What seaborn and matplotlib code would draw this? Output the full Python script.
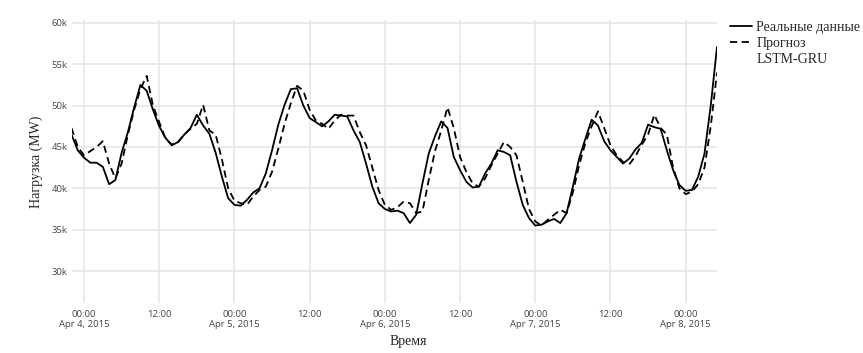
import numpy as np
import pandas as pd
import matplotlib
matplotlib.use("Agg")
import matplotlib.pyplot as plt
from matplotlib.lines import Line2D
import seaborn as sns

# hourly load, MW (thousands), starting 2015-04-03 22:00
real = [46.5, 44.6, 43.7, 43.1, 43.1, 42.6, 40.5, 41.0, 44.3, 46.8,
        49.8, 52.5, 51.8, 49.5, 47.5, 46.1, 45.2, 45.6, 46.5, 47.3,
        48.9, 47.6, 46.6, 44.3, 41.4, 38.8, 38.0, 37.9, 38.6, 39.5,
        40.0, 41.8, 44.6, 47.7, 50.1, 52.0, 52.1, 50.0, 48.5, 48.0,
        47.5, 48.1, 48.9, 48.8, 48.7, 47.0, 45.6, 43.0, 40.2, 38.2,
        37.5, 37.2, 37.3, 37.0, 35.8, 36.8, 40.6, 44.2, 46.3, 48.1,
        47.3, 43.8, 42.2, 40.8, 40.1, 40.2, 41.8, 43.0, 44.6, 44.4,
        44.0, 40.8, 38.0, 36.4, 35.5, 35.6, 36.0, 36.3, 35.8, 37.0,
        40.2, 43.6, 46.0, 48.3, 47.6, 45.7, 44.6, 43.8, 43.0, 43.6,
        44.7, 45.5, 47.7, 47.4, 47.2, 44.6, 42.2, 40.4, 39.7, 39.8,
        41.4, 44.2, 50.0, 57.1]
forecast = [47.3, 45.0, 44.0, 44.5, 45.0, 45.7, 43.0, 41.2, 43.0, 46.5,
            49.5, 52.0, 53.6, 50.0, 48.0, 46.0, 45.3, 45.6, 46.5, 47.2,
            47.8, 50.1, 47.0, 46.5, 43.5, 40.0, 38.5, 38.2, 38.0, 39.0,
            39.8, 40.2, 42.0, 44.8, 47.8, 50.3, 52.4, 51.8, 49.5, 48.2,
            47.8, 47.2, 48.2, 48.9, 48.8, 48.8, 46.8, 45.2, 42.5, 39.8,
            38.0, 37.4, 37.7, 38.4, 38.2, 37.0, 37.2, 41.0, 44.5, 47.0,
            49.8, 47.3, 43.8, 42.0, 40.6, 40.2, 41.2, 42.8, 44.2, 45.6,
            45.0, 44.0, 40.8, 37.5, 36.0, 35.5, 36.2, 36.8, 37.4, 37.0,
            39.5, 42.8, 45.5, 47.5, 49.3, 47.3, 45.2, 44.0, 43.2, 42.9,
            43.9, 45.3, 46.5, 48.9, 47.3, 46.5, 42.5, 40.0, 39.3, 39.6,
            40.5, 42.5, 47.5, 54.0]
y_ticks = [30000, 35000, 40000, 45000, 50000, 55000, 60000]
y_labels = ["30k", "35k", "40k", "45k", "50k", "55k", "60k"]

times = pd.date_range("2015-04-03 22:00", periods=len(real), freq="h")
df = pd.DataFrame({"time": times,
                   "real": np.array(real) * 1000,
                   "forecast": np.array(forecast) * 1000})

sns.set_style("white")
plt.rcParams["font.family"] = ["Open Sans", "DejaVu Sans"]

fig = plt.figure(figsize=(8.63, 3.53), dpi=100)
ax = fig.add_axes([71.5 / 863, 1 - 303 / 353, (717 - 71.5) / 863, 283 / 353])

sns.lineplot(data=df, x="time", y="real", ax=ax, color="black", lw=1.3)
sns.lineplot(data=df, x="time", y="forecast", ax=ax, color="black", lw=1.3)
ax.lines[1].set_dashes((4, 2.5))

ax.set_xlim(df["time"].iloc[0], df["time"].iloc[-1])
ax.set_ylim(26130, 60360)
ax.set_yticks(y_ticks)
ax.set_yticklabels(y_labels)

ticks = pd.date_range("2015-04-04", "2015-04-08", freq="12h")
ax.set_xticks(ticks)
xl = []
for t in ticks:
    if t.hour == 0:
        xl.append(t.strftime("%H:%M") + "\n" + t.strftime("%b %-d, %Y"))
    else:
        xl.append(t.strftime("%H:%M"))
ax.set_xticklabels(xl, linespacing=1.2, va="top")

ax.grid(True, color="#e6e6e6", lw=1.2)
ax.set_axisbelow(True)
for s in ax.spines.values():
    s.set_visible(False)
ax.tick_params(axis="both", length=0, labelsize=6.8, colors="#444444")
ax.tick_params(axis="x", pad=5)
ax.tick_params(axis="y", pad=3)

ax.set_xlabel("")
ax.set_ylabel("")
fig.text(36 / 863, 1 - 162 / 353, "Нагрузка (MW)", rotation=90, ha="center", va="center",
         family="Liberation Serif", fontsize=10)
fig.text(408 / 863, 1 - 341 / 353, "Время", ha="center", va="center",
         family="Liberation Serif", fontsize=10)

handles = [Line2D([], [], color="black", lw=1.3),
           Line2D([], [], color="black", lw=1.3, dashes=(4, 2.5)),
           Line2D([], [], color="none", lw=0)]
labels = ["Реальные данные", "Прогноз", "LSTM-GRU"]
leg = fig.legend(handles, labels, loc="upper left", bbox_to_anchor=(730 / 863, 1 - 21 / 353),
                 frameon=False, prop={"family": "Liberation Serif", "size": 10},
                 handlelength=1.6, handletextpad=0.3, labelspacing=0.2,
                 borderaxespad=0, borderpad=0)

fig.savefig("out.png", dpi=100)
